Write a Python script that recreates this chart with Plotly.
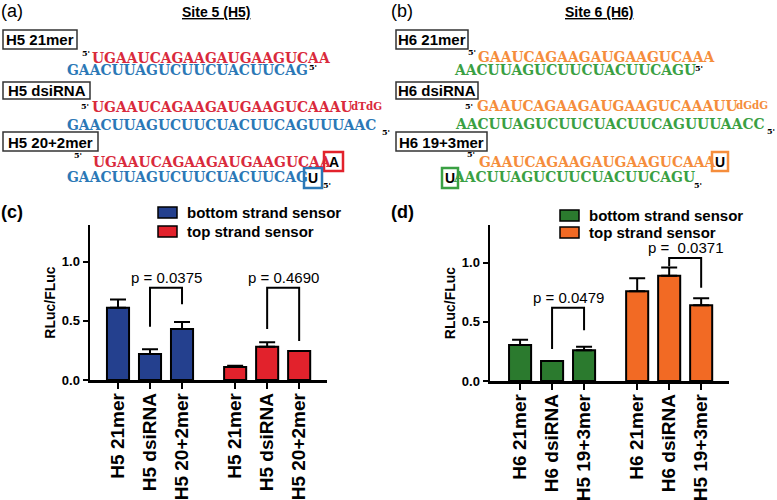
import plotly.graph_objects as go

W, H = 777, 500

# ---------------- data ----------------
labels_c = ["H5 21mer", "H5 dsiRNA", "H5 20+2mer", "H5 21mer", "H5 dsiRNA", "H5 20+2mer"]
bottom_c = [0.61, 0.22, 0.43]
bottom_c_err = [0.07, 0.04, 0.06]
top_c = [0.11, 0.28, 0.245]
top_c_err = [0.01, 0.04, 0.0]

labels_d = ["H6 21mer", "H6 dsiRNA", "H5 19+3mer", "H6 21mer", "H6 dsiRNA", "H5 19+3mer"]
bottom_d = [0.305, 0.17, 0.26]
bottom_d_err = [0.045, 0.0, 0.03]
top_d = [0.76, 0.89, 0.64]
top_d_err = [0.11, 0.07, 0.06]

positions = [0, 1, 2, 3.66, 4.66, 5.66]

# p-value brackets: (x_left, x_right, y_left_leg, y_top, y_right_leg, text)
brackets_c = [(1, 2, 0.45, 0.78, 0.64, "p = 0.0375"),
              (4.66, 5.66, 0.43, 0.78, 0.33, "p = 0.4690")]
brackets_d = [(1, 2, 0.27, 0.62, 0.43, "p = 0.0479"),
              (4.66, 5.66, 0.97, 1.04, 0.79, "p =  0.0371")]

seq_h5_top = "UGAAUCAGAAGAUGAAGUCAA"
seq_h5_bot = "GAACUUAGUCUUCUACUUCAG"
seq_h5_ds_top = "UGAAUCAGAAGAUGAAGUCAAAU"
seq_h5_ds_bot = "GAACUUAGUCUUCUACUUCAGUUUAAC"
seq_h6_top = "GAAUCAGAAGAUGAAGUCAAA"
seq_h6_bot = "AACUUAGUCUUCUACUUCAGU"
seq_h6_ds_top = "GAAUCAGAAGAUGAAGUCAAAUU"
seq_h6_ds_bot = "AACUUAGUCUUCUACUUCAGUUUAACC"

# ---------------- styles ----------------
BLUE_BAR = "#24408e"
RED_BAR = "#e2222c"
GREEN_BAR = "#2b7a2e"
ORANGE_BAR = "#f26a24"
RED_SEQ = "#d92a3c"
BLUE_SEQ = "#2b78b6"
ORANGE_SEQ = "#f58d3c"
GREEN_SEQ = "#3aa043"
SANS = "Liberation Sans, Arial, sans-serif"
SERIF = "DejaVu Serif, serif"
SERIF_C = "DejaVu Serif Condensed, DejaVu Serif, serif"


def X(p):
    return p / W


def Y(p):
    return 1 - p / H


fig = go.Figure()


def add_bars(vals, errs, xs, color, xa, ya):
    fig.add_trace(go.Bar(
        x=xs, y=vals, width=0.69, marker=dict(color=color, line=dict(color="black", width=2)),
        error_y=dict(type="data", array=errs, arrayminus=[0] * len(errs), symmetric=False,
                     color="black", thickness=2, width=8),
        xaxis=xa, yaxis=ya, showlegend=False))


add_bars(bottom_c, bottom_c_err, positions[:3], BLUE_BAR, "x", "y")
add_bars(top_c, top_c_err, positions[3:], RED_BAR, "x", "y")
add_bars(bottom_d, bottom_d_err, positions[:3], GREEN_BAR, "x2", "y2")
add_bars(top_d, top_d_err, positions[3:], ORANGE_BAR, "x2", "y2")

shapes = []
annotations = []


def ann(x, y, text, size, color="black", family=SANS, weight="normal", xanchor="center", yanchor="middle", **kw):
    annotations.append(dict(x=X(x), y=Y(y), xref="paper", yref="paper", text=text, showarrow=False,
                            xanchor=xanchor, yanchor=yanchor,
                            font=dict(size=size, color=color, family=family, weight=weight), **kw))


def rect(x0, y0, x1, y1, line="#333333", lw=1.5, fill=None):
    shapes.append(dict(type="rect", xref="paper", yref="paper", x0=X(x0), x1=X(x1), y0=Y(y0), y1=Y(y1),
                       line=dict(color=line, width=lw), fillcolor=fill, layer="above"))


# panel labels and titles
ann(12, 11, "(a)", 18)
ann(402, 11, "(b)", 18)
ann(12, 212, "(c)", 18, weight="bold")
ann(402, 212, "(d)", 18, weight="bold")
ann(216, 12, "<u>Site 5 (H5)</u>", 14, weight="bold")
ann(599, 12, "<u>Site 6 (H6)</u>", 14, weight="bold")

# name boxes
for (x0, y0, x1, y1, t) in [(3, 30, 77, 49, "H5 21mer"), (3, 82, 90, 99, "H5 dsiRNA"),
                            (3, 132, 98, 151, "H5 20+2mer"),
                            (396, 30, 468, 49, "H6 21mer"), (396, 82, 478, 99, "H6 dsiRNA"),
                            (396, 132, 487, 151, "H6 19+3mer")]:
    rect(x0, y0, x1, y1)
    ann((x0 + x1) / 2, (y0 + y1) / 2 + 0.5, t, 15, weight="bold")

SEQ = 13.9
P5 = 8
SB = dict(family=SERIF, weight="bold")
# panel (a) sequences
ann(86, 53, "5'", P5, **SB)
ann(211, 58, seq_h5_top, SEQ, RED_SEQ, **SB)
ann(187.5, 70, seq_h5_bot, SEQ, BLUE_SEQ, **SB)
ann(313, 67, "5'", P5, **SB)

ann(85, 106, "5'", P5, **SB)
ann(222, 107, seq_h5_ds_top, SEQ, RED_SEQ, **SB)
ann(366, 106, "dTdG", 11.5, RED_SEQ, family=SERIF_C, weight="bold")
ann(221.5, 125, seq_h5_ds_bot, SEQ, BLUE_SEQ, **SB)
ann(386, 132, "5'", P5, **SB)

ann(78, 155, "5'", P5, **SB)
ann(212, 162, seq_h5_top, SEQ, RED_SEQ, **SB)
ann(187, 177, seq_h5_bot, SEQ, BLUE_SEQ, **SB)
rect(324, 152, 343, 171, line=RED_BAR, lw=2.5, fill="white")
ann(333.5, 162, "A", 14, weight="bold")
rect(304, 168, 322, 188, line=BLUE_SEQ, lw=2.5, fill="white")
ann(313, 178, "U", 14, weight="bold")
ann(327, 185, "5'", P5, **SB)

# panel (b) sequences
ann(472, 52, "5'", P5, **SB)
ann(596.5, 57, seq_h6_top, SEQ, ORANGE_SEQ, **SB)
ann(574.5, 70, seq_h6_bot, SEQ, GREEN_SEQ, **SB)
ann(699, 68, "5'", P5, **SB)

ann(469, 106, "5'", P5, **SB)
ann(607, 106, seq_h6_ds_top, SEQ, ORANGE_SEQ, **SB)
ann(752, 105, "dGdG", 11.5, ORANGE_SEQ, family=SERIF_C, weight="bold")
ann(609.5, 124, seq_h6_ds_bot, SEQ, GREEN_SEQ, **SB)
ann(771, 131, "5'", P5, **SB)

ann(471, 154, "5'", P5, **SB)
ann(597, 162, seq_h6_top, SEQ, ORANGE_SEQ, **SB)
rect(712, 152, 728, 171, line=ORANGE_SEQ, lw=2.5, fill="white")
ann(720, 162, "U", 14, weight="bold")
ann(574, 177, seq_h6_bot, SEQ, GREEN_SEQ, **SB)
rect(442, 168, 458, 188, line=GREEN_SEQ, lw=2.5, fill="white")
ann(450, 178, "U", 14, weight="bold")
ann(698, 185, "5'", P5, **SB)

# legends
for (sx, tx, items) in [(158, 185, [(BLUE_BAR, "bottom strand sensor", 207), (RED_BAR, "top strand sensor", 226)]),
                        (560, 587, [(GREEN_BAR, "bottom strand sensor", 210), (ORANGE_BAR, "top strand sensor", 227)])]:
    for col, t, yy in items:
        rect(sx, yy, sx + 19, yy + 11, line="black", lw=1.5, fill=col)
        ann(tx, yy + 6, t, 15, weight="bold", xanchor="left")

# brackets and p-values
for br, xr, yr in [(brackets_c, "x", "y"), (brackets_d, "x2", "y2")]:
    for (xl, xrr, yl, yt, yrl, t) in br:
        shapes.append(dict(type="path", xref=xr, yref=yr,
                           path=f"M {xl},{yl} L {xl},{yt} L {xrr},{yt} L {xrr},{yrl}",
                           line=dict(color="black", width=2)))
        annotations.append(dict(x=(xl + xrr) / 2, y=yt + 0.09, xref=xr, yref=yr, text=t, showarrow=False,
                                xanchor="center", yanchor="middle",
                                font=dict(size=15, family=SANS, color="black")))

axis_common = dict(showline=True, linecolor="black", linewidth=2.5, ticks="outside", tickwidth=2,
                   tickcolor="black", showgrid=False, zeroline=False, automargin=False)
xfont = dict(size=19, family=SANS, weight="bold", color="black")
yfont = dict(size=13, family=SANS, weight="bold", color="black")
ytitle = dict(text="RLuc/FLuc", font=dict(size=14, family=SANS, weight="bold", color="black"), standoff=3)

fig.update_layout(
    width=W, height=H, autosize=False, margin=dict(l=0, r=0, t=0, b=0),
    paper_bgcolor="white", plot_bgcolor="white", barmode="overlay",
    xaxis=dict(domain=[90 / W, 327 / W], range=[-0.875, 6.53], tickvals=positions, ticktext=labels_c,
               tickangle=-90, tickfont=xfont, anchor="y", ticklen=6, ticklabelstandoff=-3, **axis_common),
    yaxis=dict(domain=[0.24, 0.55], range=[0, 1.31], tickvals=[0, 0.5, 1.0], ticktext=["0.0", "0.5", "1.0"],
               tickfont=yfont, anchor="x", ticklen=5, title=ytitle, **axis_common),
    xaxis2=dict(domain=[490 / W, 729 / W], range=[-0.94, 6.53], tickvals=positions, ticktext=labels_d,
                tickangle=-90, tickfont=xfont, anchor="y2", ticklen=6, ticklabelstandoff=-3, **axis_common),
    yaxis2=dict(domain=[0.238, 0.55], range=[0, 1.32], tickvals=[0, 0.5, 1.0], ticktext=["0.0", "0.5", "1.0"],
                tickfont=yfont, anchor="x2", ticklen=5, title=ytitle, **axis_common),
    shapes=shapes, annotations=annotations,
)

fig.write_html("out.html", config={"displayModeBar": False, "staticPlot": True},
               post_script="document.body.style.margin='0px';document.body.style.overflow='hidden';")
